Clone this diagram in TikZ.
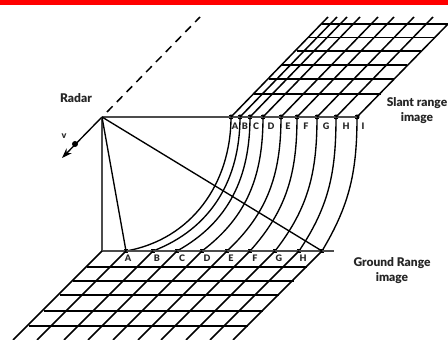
\documentclass[tikz,border=0pt]{standalone}
\usepackage{fontspec}
\setmainfont{Lato}[BoldFont={Lato Black}]
\usetikzlibrary{arrows.meta}
\definecolor{barred}{RGB}{255,0,0}
\tikzset{
  gridline/.style={black, line width=1.5pt},
  flatline/.style={black, line width=1.2pt},
  rayline/.style={black, line width=1.35pt},
  baseline/.style={black!70, line width=1.5pt},
  dot/.style={circle, fill=black, inner sep=0pt, minimum size=5pt},
  tick/.style={font=\bfseries\fontsize{9}{10}\selectfont, black!85, inner sep=0pt},
  lbl/.style={font=\bfseries\fontsize{12}{15}\selectfont, black!85, align=center, inner sep=0pt}
}
\begin{document}
\begin{tikzpicture}[x=1pt, y=1pt]
      \useasboundingbox (0,0) rectangle (448,340);
      \fill[barred] (0,335.3) rectangle (448,340);
      % radar and its track
      \coordinate (radar) at (102,223);
      \coordinate (trackS) at (107,228);
      \coordinate (trackT) at (200,323);
      \coordinate (velT) at (62,182);
      \coordinate (corner) at (102,89);
      \coordinate (groundEnd) at (334,89);
      \draw[black, line width=1.5pt, dash pattern=on 8pt off 6pt] (trackS) -- (trackT);
      \draw[black, line width=1.35pt, -{Stealth[length=10pt,width=7pt]}] (radar) -- (velT);
      \node[dot, minimum size=6pt] (sat) at (75,196) {};
      \node[lbl] (radarl) at (76,242) {Radar};
      \node[tick] (vl) at (64,204) {v};
      % slant range points, ground points, arcs
      \foreach \name/\sx/\gx/\ang in {A/231/126/10, B/240/153/21, C/250/177/29, D/263/202/37, E/281/227/43, F/297/250/48, G/317/275/52, H/336/299/56, I/357/322/59} {
        \node[dot] (s\name) at (\sx,223) {};
        \node[dot, rectangle, minimum size=4pt] (g\name) at (\gx,89) {};
        \draw[rayline] (s\name.center) to[out=-90, in=\ang, looseness=1] (g\name.center);
      }
      \draw[baseline] (radar) -- (sI.center);
      \draw[baseline] (radar) -- (corner);
      \draw[baseline] (corner) -- (groundEnd);
      \draw[rayline] (radar) -- (gA.center);
      \draw[rayline] (radar) -- (gI.center);
      % slant range grid
      \foreach \name in {A,B,C,D,E,F,G,H} {
        \draw[gridline] (s\name.center) -- ++(97,100);
      }
      \draw[gridline] (sI.center) -- ++(91,93);
      \foreach \y/\l/\r in {316/322.3/448, 302.3/309/434, 289/296.7/420.7, 275/282.3/407.3, 261/269/394, 246/254/380.7} {
        \draw[flatline] (\l,\y) -- (\r,\y);
      }
      % ground range grid
      \foreach \name in {A,B,C,D,E,F,G,H,I} {
        \draw[gridline] (g\name.center) -- ++(-89,-89);
      }
      \draw[gridline] (corner) -- ++(-89,-89);
      \foreach \y/\l/\r in {73/87/307, 59/73/294, 45/60/279, 29/44/263, 14/29/248} {
        \draw[flatline] (\l,\y) -- (\r,\y);
      }
      % letters
      \foreach \name/\x in {A/235, B/245, C/256, D/271, E/288, F/306, G/326, H/346, I/363} {
        \node[tick] (sl\name) at (\x,214) {\name};
      }
      \foreach \name/\x in {A/128, B/157, C/182, D/207, E/231, F/255, G/279, H/303} {
        \node[tick] (gl\name) at (\x,82) {\name};
      }
      \node[lbl] (slantl) at (417,229.5) {Slant range\\image};
      \node[lbl] (groundl) at (392,69.5) {Ground Range\\image};
    \end{tikzpicture}
\end{document}
